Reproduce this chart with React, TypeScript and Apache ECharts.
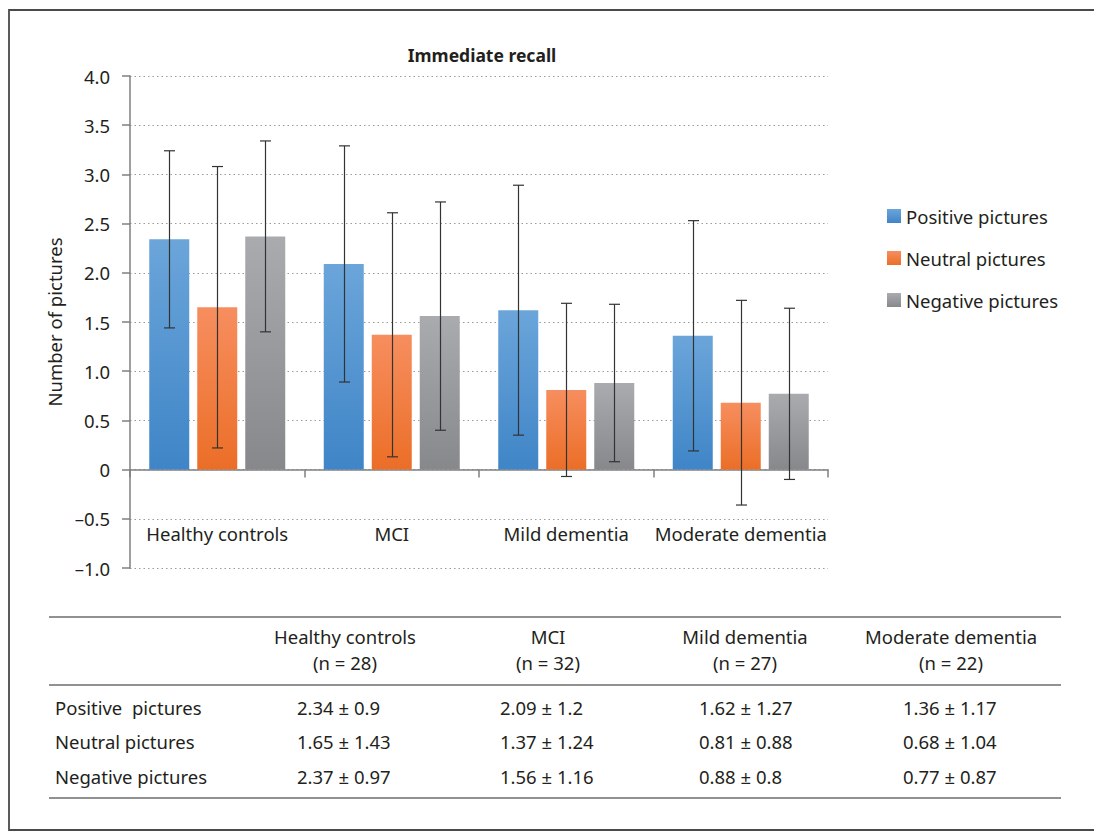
import React, { useEffect, useRef } from "react";
import * as echarts from "echarts";

// Groups and sample sizes
const groups = ["Healthy controls", "MCI", "Mild dementia", "Moderate dementia"];
const groupSizes = [28, 32, 27, 22];

// Picture categories (legend) and table row labels
const seriesNames = ["Positive pictures", "Neutral pictures", "Negative pictures"];
const rowLabels = ["Positive  pictures", "Neutral pictures", "Negative pictures"];

// Mean number of pictures recalled, and standard deviations
const positiveMean = [2.34, 2.09, 1.62, 1.36];
const positiveSD = [0.9, 1.2, 1.27, 1.17];
const neutralMean = [1.65, 1.37, 0.81, 0.68];
const neutralSD = [1.43, 1.24, 0.88, 1.04];
const negativeMean = [2.37, 1.56, 0.88, 0.77];
const negativeSD = [0.97, 1.16, 0.8, 0.87];

// Value axis range
const yMin = -1;
const yMax = 4;
const yStep = 0.5;

const means = [positiveMean, neutralMean, negativeMean];
const sds = [positiveSD, neutralSD, negativeSD];

const FONT = "'Noto Sans', 'Open Sans', sans-serif";
const TEXT = "#231f20";
const AXIS = "#7f7f7f";
const FS = 18.5;

const BAR_W = 40;
const BAR_GAP = 8;

const gradients: [string, string][] = [
  ["#6ba5da", "#3f85c7"],
  ["#f78e5f", "#eb6e27"],
  ["#aaabaf", "#87888c"],
];

function fmtTick(v: number): string {
  if (v === 0) return "0";
  if (v < 0) return "\u2013" + Math.abs(v).toFixed(1);
  return v.toFixed(1);
}

export default function App() {
  const ref = useRef<HTMLDivElement>(null);

  useEffect(() => {
    if (!ref.current) return;
    const chart = echarts.init(ref.current, undefined, { renderer: "svg" });

    const barSeries = seriesNames.map((name, k) => ({
      name,
      type: "bar",
      data: means[k],
      barWidth: BAR_W,
      barGap: (BAR_GAP / BAR_W) * 100 + "%",
      itemStyle: {
        color: new echarts.graphic.LinearGradient(0, 0, 0, 1, [
          { offset: 0, color: gradients[k][0] },
          { offset: 1, color: gradients[k][1] },
        ]),
      },
      z: 2,
    }));

    const errData: number[][] = [];
    for (let k = 0; k < seriesNames.length; k++) {
      for (let i = 0; i < groups.length; i++) {
        errData.push([i, k, means[k][i], sds[k][i]]);
      }
    }

    // Mean ± SD whiskers, centred on each bar
    const errorSeries = {
      type: "custom",
      name: "sd",
      z: 5,
      data: errData,
      encode: { x: 0, y: 2 },
      renderItem: (_params: any, api: any) => {
        const cat = api.value(0);
        const k = api.value(1);
        const m = api.value(2);
        const s = api.value(3);
        const hi = api.coord([cat, m + s]);
        const lo = api.coord([cat, m - s]);
        const x = Math.round(hi[0] + (k - 1) * (BAR_W + BAR_GAP)) + 0.5;
        const cap = 5.5;
        const st = { stroke: "#333333", lineWidth: 1.2 };
        return {
          type: "group",
          children: [
            { type: "line", shape: { x1: x, y1: hi[1], x2: x, y2: lo[1] }, style: st },
            { type: "line", shape: { x1: x - cap, y1: hi[1], x2: x + cap, y2: hi[1] }, style: st },
            { type: "line", shape: { x1: x - cap, y1: lo[1], x2: x + cap, y2: lo[1] }, style: st },
          ],
        };
      },
    };

    // Table beneath the chart
    const colCenters = [345, 548, 745, 951];
    const colValueLeft = [297, 500, 699, 903];
    const rowY = [707, 741, 776];
    const tableLeft = 49;
    const tableRight = 1061;
    const lineStyle = { stroke: "#6d6d6d", lineWidth: 1.5 };
    const txt = (text: string, x: number, y: number, align: string) => ({
      type: "text",
      x,
      y,
      style: {
        text,
        textAlign: align,
        textVerticalAlign: "middle",
        fontSize: FS,
        fontFamily: FONT,
        fill: TEXT,
      },
    });

    const graphics: any[] = [
      {
        type: "polyline",
        shape: { points: [[1100, 10], [9, 10], [9, 830], [1100, 830]] },
        style: { stroke: "#4a4a4a", lineWidth: 1.8, fill: "none" },
      },
      { type: "line", shape: { x1: tableLeft, y1: 617, x2: tableRight, y2: 617 }, style: lineStyle },
      { type: "line", shape: { x1: tableLeft, y1: 685, x2: tableRight, y2: 685 }, style: lineStyle },
      { type: "line", shape: { x1: tableLeft, y1: 798, x2: tableRight, y2: 798 }, style: lineStyle },
    ];
    groups.forEach((g, i) => {
      graphics.push(txt(g, colCenters[i], 636, "center"));
      graphics.push(txt("(n = " + groupSizes[i] + ")", colCenters[i], 662, "center"));
    });
    rowLabels.forEach((r, k) => {
      graphics.push(txt(r, 55, rowY[k], "left"));
      groups.forEach((_g, i) => {
        graphics.push(
          txt(String(means[k][i]) + " \u00b1 " + String(sds[k][i]), colValueLeft[i], rowY[k], "left")
        );
      });
    });

    chart.setOption({
      animation: false,
      backgroundColor: "#ffffff",
      textStyle: { fontFamily: FONT },
      title: {
        text: "Immediate recall",
        left: 477,
        top: 41,
        textAlign: "center",
        textStyle: { fontSize: 17.5, fontWeight: "bold", color: TEXT, fontFamily: FONT },
      },
      legend: {
        data: seriesNames,
        orient: "vertical",
        left: 887,
        top: 205,
        padding: 0,
        icon: "rect",
        itemWidth: 14,
        itemHeight: 14,
        itemGap: 20,
        textStyle: { fontSize: FS, lineHeight: 22, color: TEXT, fontFamily: FONT },
      },
      grid: { left: 130, top: 76, width: 698, height: 492, containLabel: false },
      xAxis: {
        type: "category",
        data: groups,
        boundaryGap: true,
        axisLine: { show: true, onZero: true, lineStyle: { color: AXIS, width: 1.5 } },
        axisTick: { show: true, length: 8, lineStyle: { color: AXIS, width: 1.5 } },
        axisLabel: { margin: -44, fontSize: FS, color: TEXT, fontFamily: FONT, interval: 0 },
        splitLine: { show: false },
      },
      yAxis: {
        type: "value",
        min: yMin,
        max: yMax,
        interval: yStep,
        name: "Number of pictures",
        nameLocation: "middle",
        nameRotate: 90,
        nameGap: 66,
        nameTextStyle: { fontSize: FS, color: TEXT, fontFamily: FONT },
        axisLine: { show: true, lineStyle: { color: AXIS, width: 1.5 } },
        axisTick: { show: true, length: 8, lineStyle: { color: AXIS, width: 1.5 } },
        axisLabel: { margin: 20, fontSize: FS, color: TEXT, fontFamily: FONT, formatter: fmtTick },
        splitLine: { show: true, lineStyle: { color: "#9a9a9a", width: 1.2, type: [1.5, 3] } },
      },
      series: [...barSeries, errorSeries],
      graphic: graphics,
    });

    return () => chart.dispose();
  }, []);

  return (
    <div
      ref={ref}
      style={{ position: "fixed", left: 0, top: 0, width: 1094, height: 832, background: "#fff" }}
    />
  );
}
